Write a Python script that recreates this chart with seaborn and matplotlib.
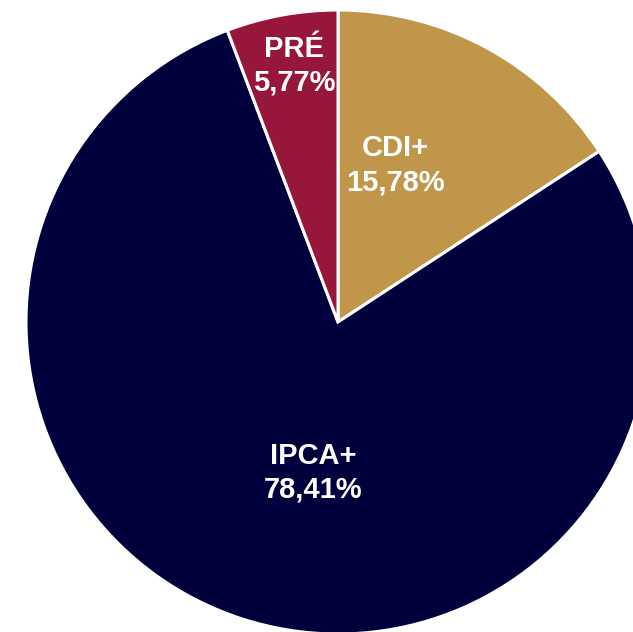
import matplotlib
matplotlib.use("Agg")
import matplotlib.pyplot as plt
import seaborn as sns

categories = ["CDI+", "IPCA+", "PRÉ"]
values = [15.78, 78.41, 5.77]
value_labels = ["15,78%", "78,41%", "5,77%"]
colors = ["#C0964B", "#00003C", "#96173A"]

sns.set_theme(style="white")
plt.rcParams['font.family'] = ['Liberation Sans', 'DejaVu Sans']

palette = sns.color_palette(colors)

fig = plt.figure(figsize=(6.33, 6.32), dpi=100)
ax = fig.add_axes([0, 0, 1, 1])
wedges, _ = ax.pie(values, colors=palette, startangle=90, counterclock=False,
                   radius=1.0, wedgeprops=dict(edgecolor="white", linewidth=2.2))
ax.set_aspect("auto")
ax.set_xlim(-338/312, (633-338)/312)
ax.set_ylim(-(632-322)/312, 322/312)
ax.axis("off")

label_pos = [(0.183, 0.503), (-0.080, -0.483), (-0.141, 0.822)]
for (x, y), cat, vl in zip(label_pos, categories, value_labels):
    ax.text(x, y, f"{cat}\n{vl}", ha="center", va="center", color="white",
            fontsize=21, fontweight="bold", linespacing=1.27)

fig.savefig("out.png", dpi=100)
